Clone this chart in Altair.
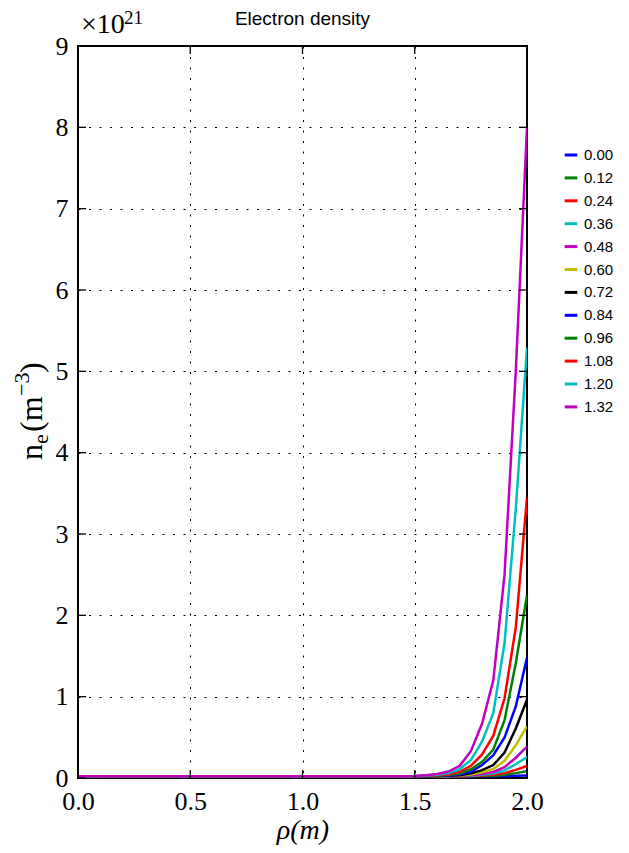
import altair as alt
import pandas as pd

# ---- data (values in units of 1e21 m^-3) ----
rho = [0.0, 0.5, 1.0, 1.45, 1.5, 1.55, 1.6, 1.65, 1.7, 1.75, 1.8, 1.85, 1.9, 1.95, 2.0]
labels = ["0.00", "0.12", "0.24", "0.36", "0.48", "0.60",
          "0.72", "0.84", "0.96", "1.08", "1.20", "1.32"]
colors = ["#0000ff", "#008000", "#ff0000", "#00bfbf", "#bf00bf", "#bfbf00",
          "#000000", "#0000ff", "#008000", "#ff0000", "#00bfbf", "#bf00bf"]

ne_000 = [0.02, 0.02, 0.02, 0.02, 0.02, 0.02, 0.02, 0.02, 0.02, 0.02, 0.021, 0.022, 0.024, 0.027, 0.032]
ne_012 = [0.02, 0.02, 0.02, 0.02, 0.02, 0.02, 0.02, 0.02, 0.021, 0.022, 0.025, 0.029, 0.04, 0.06, 0.084]
ne_024 = [0.02, 0.02, 0.02, 0.02, 0.02, 0.02, 0.02, 0.021, 0.022, 0.025, 0.03, 0.039, 0.06, 0.10, 0.148]
ne_036 = [0.02, 0.02, 0.02, 0.02, 0.02, 0.02, 0.021, 0.022, 0.024, 0.029, 0.04, 0.055, 0.094, 0.169, 0.259]
ne_048 = [0.02, 0.02, 0.02, 0.02, 0.02, 0.021, 0.021, 0.023, 0.026, 0.034, 0.05, 0.074, 0.134, 0.249, 0.387]
ne_060 = [0.02, 0.02, 0.02, 0.02, 0.02, 0.021, 0.022, 0.025, 0.03, 0.044, 0.07, 0.111, 0.211, 0.403, 0.634]
ne_072 = [0.02, 0.02, 0.02, 0.02, 0.021, 0.022, 0.024, 0.027, 0.035, 0.057, 0.097, 0.159, 0.313, 0.608, 0.962]
ne_084 = [0.02, 0.02, 0.02, 0.02, 0.021, 0.023, 0.025, 0.031, 0.043, 0.076, 0.16, 0.28, 0.50, 0.88, 1.48]
ne_096 = [0.02, 0.02, 0.02, 0.02, 0.021, 0.024, 0.028, 0.037, 0.056, 0.107, 0.20, 0.35, 0.71, 1.41, 2.25]
ne_108 = [0.02, 0.02, 0.02, 0.02, 0.022, 0.026, 0.033, 0.045, 0.075, 0.15, 0.29, 0.52, 0.98, 1.85, 3.45]
ne_120 = [0.02, 0.02, 0.02, 0.02, 0.023, 0.03, 0.04, 0.06, 0.11, 0.22, 0.45, 0.80, 1.66, 3.31, 5.29]
ne_132 = [0.02, 0.02, 0.02, 0.02, 0.025, 0.035, 0.05, 0.08, 0.15, 0.33, 0.67, 1.20, 2.50, 5.00, 8.00]

series = [ne_000, ne_012, ne_024, ne_036, ne_048, ne_060,
          ne_072, ne_084, ne_096, ne_108, ne_120, ne_132]

x_ticks = [0.0, 0.5, 1.0, 1.5, 2.0]
y_ticks = [0, 1, 2, 3, 4, 5, 6, 7, 8, 9]

rows = []
for lab, vals in zip(labels, series):
    for r, v in zip(rho, vals):
        rows.append({"x": r, "y": v, "t": lab})
df = pd.DataFrame(rows)
df_xt = pd.DataFrame({"x": x_ticks})
df_yt = pd.DataFrame({"y": y_ticks})

W, H = 449, 732
xscale = alt.Scale(domain=[0, 2], nice=False, zero=False)
yscale = alt.Scale(domain=[0, 9], nice=False)

x_axis = alt.Axis(values=x_ticks, format=".1f", title="ρ(m)", titleFontStyle="italic",
                  titleFontSize=28, titlePadding=2, labelFlush=False)
y_axis = alt.Axis(values=y_ticks, format="d", title="", labelFlush=False)

xenc = alt.X("x:Q", scale=xscale, axis=x_axis)
yenc = alt.Y("y:Q", scale=yscale, axis=y_axis)

lines = alt.Chart(df).mark_line(strokeWidth=2.5, clip=True).encode(
    x=xenc, y=yenc,
    color=alt.Color("t:N", scale=alt.Scale(domain=labels, range=colors),
                    legend=alt.Legend(title=None, orient="none", legendX=485, legendY=101,
                                      symbolType="stroke", symbolSize=160, symbolStrokeWidth=3,
                                      labelFont="Liberation Sans", labelFontSize=15,
                                      rowPadding=6.9, labelOffset=5)),
    detail="t:N",
)

tick_style = dict(color="black", strokeWidth=1.3)
yt_left = alt.Chart(df_yt).mark_rule(**tick_style).encode(y=yenc, x=alt.value(0), x2=alt.value(8))
yt_right = alt.Chart(df_yt).mark_rule(**tick_style).encode(y=yenc, x=alt.value(W - 8), x2=alt.value(W))
xt_bot = alt.Chart(df_xt).mark_rule(**tick_style).encode(x=xenc, y=alt.value(H - 8), y2=alt.value(H))
xt_top = alt.Chart(df_xt).mark_rule(**tick_style).encode(x=xenc, y=alt.value(0), y2=alt.value(8))


def txt(s, size, x, y, angle=0):
    return alt.Chart(pd.DataFrame({"s": [s]})).mark_text(
        align="left", baseline="alphabetic", font="Liberation Serif", fontSize=size,
        color="black", angle=angle
    ).encode(text="s:N", x=alt.value(x), y=alt.value(y))


# "×10^21" offset label
mult = txt("×10", 28, 3, -13)
expo = txt("21", 19, 46, -22)

# y-axis title  n_e (m^-3), drawn rotated in pieces
yt_n = txt("n", 32, -36, 414, 270)
yt_e = txt("e", 22, -30, 398, 270)
yt_m = txt("(m", 32, -36, 386, 270)
yt_p = txt("−3", 22, -49, 350, 270)
yt_c = txt(")", 32, -36, 327, 270)

chart = alt.layer(lines, yt_left, yt_right, xt_bot, xt_top, mult, expo,
                  yt_n, yt_e, yt_m, yt_p, yt_c).properties(
    width=W, height=H,
    title=alt.TitleParams("Electron density", font="Liberation Sans", fontSize=19,
                          fontWeight="normal", offset=0, dy=20, color="black"),
    autosize=alt.AutoSizeParams(type="none"),
    padding={"left": 70, "top": 38, "right": 94, "bottom": 72},
).configure_view(
    stroke="black", strokeWidth=2
).configure_axis(
    grid=True, gridColor="black", gridDash=[2, 8.5], gridWidth=1, gridOpacity=1,
    domain=False, ticks=False, labelFont="Liberation Serif", labelFontSize=26,
    labelColor="black", titleFont="Liberation Serif", titleColor="black",
    titleFontWeight="normal",
).configure_axisX(labelPadding=10).configure_axisY(labelPadding=10)

chart.save("out.html", embed_options={"renderer": "svg", "actions": False})
